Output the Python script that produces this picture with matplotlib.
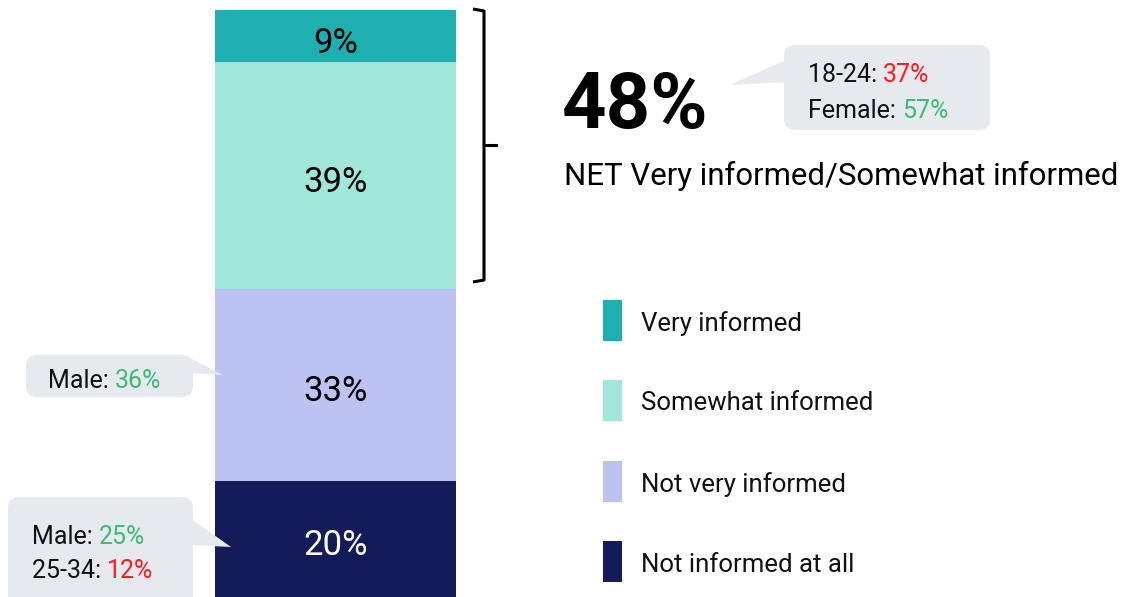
import matplotlib
matplotlib.use("Agg")
import matplotlib.pyplot as plt
from matplotlib.patches import FancyBboxPatch, Polygon, Rectangle

plt.rcParams['font.family'] = ['Roboto', 'DejaVu Sans']

# ---- data ----
categories = ["Not informed at all", "Not very informed", "Somewhat informed", "Very informed"]
values = [20, 33, 39, 9]
colors = ["#131b58", "#bcc3f2", "#a0e6d9", "#1eb0b0"]
label_colors = ["white", "black", "black", "black"]
net_value = "48%"
net_label = "NET Very informed/Somewhat informed"
GREEN = "#3dbb75"
RED = "#ff1a1a"
callout_top = [("18-24: ", "37%", RED), ("Female: ", "57%", GREEN)]
callout_mid = [("Male: ", "36%", GREEN)]
callout_bot = [("Male: ", "25%", GREEN), ("25-34: ", "12%", RED)]

W, H = 1122, 597
fig = plt.figure(figsize=(W / 100, H / 100), dpi=100)

# ---- stacked bar ----
axb = fig.add_axes([215 / W, 0, 241 / W, 587 / H])
bottom = 0
for v, c, lc in zip(values, colors, label_colors):
    axb.bar(0, v, bottom=bottom, width=1, color=c, linewidth=0)
    axb.annotate(f"{v}%", xy=(0, bottom + v / 2), xytext=(0, -2.5),
                 textcoords="offset points", ha="center", va="center_baseline",
                 fontsize=25, color=lc)
    bottom += v
axb.set_xlim(-0.5, 0.5)
axb.set_ylim(0, sum(values))
axb.axis("off")

# ---- overlay in pixel coordinates ----
ax = fig.add_axes([0, 0, 1, 1], zorder=5)
ax.set_xlim(0, W)
ax.set_ylim(H, 0)
ax.axis("off")
ax.patch.set_alpha(0)

# brace
bx = 484
ax.plot([473, bx, bx, 473], [9, 11, 280, 282], color="black", lw=2.2,
        solid_joinstyle="round", solid_capstyle="butt")
ax.plot([bx, 496], [145, 145], color="black", lw=2.2)

# big net number
ax.text(562, 99, net_value, fontsize=56, fontweight="bold", ha="left", va="center_baseline")
ax.text(564, 173, net_label, fontsize=22.4, ha="left", va="center_baseline")

BOXC = "#e6e9ee"


def callout(x, y, w, h, tail, lines, tx, ty0, dy, fs=18):
    box = FancyBboxPatch((x, y), w, h, boxstyle="round,pad=0,rounding_size=11",
                         facecolor=BOXC, edgecolor="none")
    ax.add_patch(box)
    ax.add_patch(Polygon(tail, closed=True, facecolor=BOXC, edgecolor="none"))
    for i, (a, b, col) in enumerate(lines):
        t = ax.text(tx, ty0 + i * dy, a, fontsize=fs, ha="left", va="center_baseline",
                    color="#111111")
        ax.annotate(b, xy=(1, 0), xycoords=t, ha="left", va="bottom",
                    fontsize=fs, color=col)


callout(784, 45, 206, 85, [(786, 60), (730, 85), (786, 82)],
        callout_top, 808, 73, 35)
callout(26, 355, 167, 42, [(190, 358), (223, 375), (190, 373)],
        callout_mid, 48, 379, 0)
callout(8, 497, 185, 120, [(190, 518), (231, 547), (190, 545)],
        callout_bot, 32, 535, 34)

# legend
leg_y = [320, 400, 481, 561]
for yc, cat, col in zip(leg_y, categories[::-1], colors[::-1]):
    ax.add_patch(Rectangle((603, yc - 20), 19, 41, facecolor=col, edgecolor="none"))
    ax.text(641, yc + 1, cat, fontsize=18.5, ha="left", va="center_baseline", color="#111111")

fig.savefig("out.png", dpi=100)
